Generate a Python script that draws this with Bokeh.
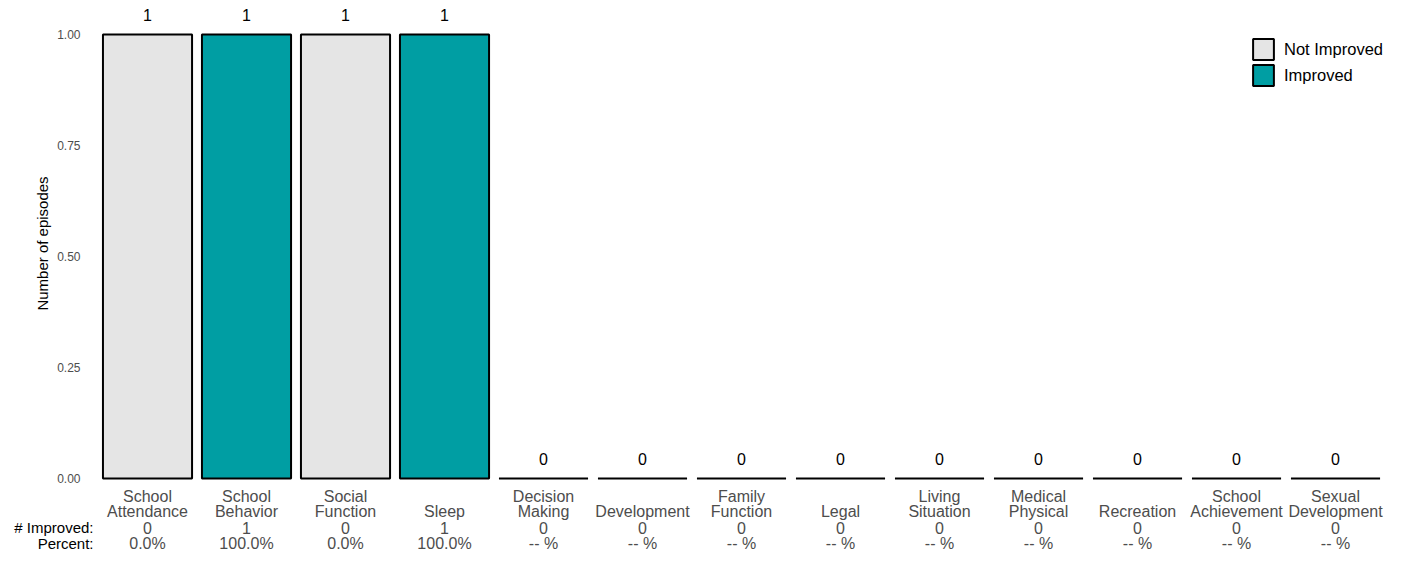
from bokeh.plotting import figure
from bokeh.layouts import column
from bokeh.models import (ColumnDataSource, Range1d, FixedTicker, NumeralTickFormatter,
                          LabelSet, Legend, LegendItem, LinearAxis)
from bokeh.transform import factor_cmap
from bokeh.core.properties import value
from bokeh.embed import file_html
from bokeh.resources import INLINE

# ---- data ----
name_line1 = ["School", "School", "Social", "", "Decision", "", "Family", "", "Living",
              "Medical", "", "School", "Sexual"]
name_line2 = ["Attendance", "Behavior", "Function", "Sleep", "Making", "Development",
              "Function", "Legal", "Situation", "Physical", "Recreation", "Achievement",
              "Development"]
episodes = [1, 1, 1, 1, 0, 0, 0, 0, 0, 0, 0, 0, 0]
improved = [0, 1, 0, 1, 0, 0, 0, 0, 0, 0, 0, 0, 0]
status = ["Not Improved", "Improved", "Not Improved", "Improved"] + ["Not Improved"] * 9
percent = ["0.0%", "100.0%", "0.0%", "100.0%"] + ["-- %"] * 9
row_headers = ["# Improved:", "Percent:"]
status_levels = ["Not Improved", "Improved"]
status_colors = ["#E5E5E5", "#009EA3"]
y_ticks = [0, 0.25, 0.5, 0.75, 1.0]

FONT = "Liberation Sans"
W = 1386
LEFT = 93
positions = list(range(1, len(name_line2) + 1))

source = ColumnDataSource(dict(
    x=positions,
    episodes=episodes,
    zero=[0] * len(positions),
    status=status,
    count_text=[str(v) for v in episodes],
    line1=name_line1,
    line2=name_line2,
    improved_text=[str(v) for v in improved],
    percent=percent,
))

xr = Range1d(0.4545, 13.515)

# ---------- bar chart ----------
p = figure(width=W, height=486, output_backend="svg", toolbar_location=None,
           x_range=xr, y_range=Range1d(-0.018018, 1.07658),
           min_border_left=LEFT, min_border_right=0, min_border_top=0, min_border_bottom=0)
p.outline_line_color = None
p.xgrid.visible = False
p.ygrid.visible = False
p.xaxis.visible = False

yax = p.yaxis[0]
yax.ticker = FixedTicker(ticks=y_ticks)
yax.formatter = NumeralTickFormatter(format="0.00")
yax.axis_line_color = None
yax.major_tick_line_color = None
yax.minor_tick_line_color = None
yax.major_tick_out = 0
yax.minor_tick_out = 0
yax.major_label_standoff = 13
yax.major_label_text_font = FONT
yax.major_label_text_font_size = "12px"
yax.major_label_text_color = "#4D4D4D"
yax.axis_label = "Number of episodes"
yax.axis_label_text_font = FONT
yax.axis_label_text_font_size = "15px"
yax.axis_label_text_font_style = "normal"
yax.axis_label_text_color = "black"
yax.axis_label_standoff = 3

bars = p.vbar(x="x", top="episodes", bottom="zero", width=0.9, source=source,
              fill_color=factor_cmap("status", status_colors, status_levels),
              line_color="black", line_width=2)

p.add_layout(LabelSet(x="x", y="episodes", text="count_text", source=source,
                      y_offset=20, text_align="center", text_baseline="middle",
                      text_font=value(FONT), text_font_size="16px", text_color="black"))

legend = Legend(items=[LegendItem(label=status_levels[0], renderers=[bars], index=0),
                       LegendItem(label=status_levels[1], renderers=[bars], index=1)],
                location=(1157, 398), glyph_width=26, glyph_height=26, spacing=0,
                padding=0, margin=0, label_standoff=8, border_line_color=None,
                background_fill_alpha=0, label_text_font=FONT, label_text_color="black",
                label_text_font_size="16.5px", label_height=26)
p.add_layout(legend)

# ---------- label table under the bars ----------
t = figure(width=W, height=67, output_backend="svg", toolbar_location=None,
           x_range=xr, y_range=Range1d(3.6164, -0.5975),
           x_axis_type=None, y_axis_type=None,
           min_border_left=LEFT, min_border_right=0, min_border_top=0, min_border_bottom=0)
t.outline_line_color = None
t.xgrid.visible = False
t.ygrid.visible = False

for row, col in enumerate(["line1", "line2", "improved_text", "percent"]):
    t.text(x="x", y=row, text=col, source=source, text_align="center",
           text_baseline="middle", text_font=value(FONT), text_font_size="16px",
           text_color="#4D4D4D")

hax = LinearAxis(ticker=FixedTicker(ticks=[2, 3]),
                 major_label_overrides={2: row_headers[0], 3: row_headers[1]})
hax.axis_line_color = None
hax.major_tick_line_color = None
hax.minor_tick_line_color = None
hax.major_tick_out = 0
hax.minor_tick_out = 0
hax.major_label_standoff = 0
hax.major_label_text_font = FONT
hax.major_label_text_font_size = "15px"
hax.major_label_text_color = "black"
t.add_layout(hax, "left")

layout = column(p, t, spacing=0)
open("out.html", "w").write(file_html(layout, INLINE))
